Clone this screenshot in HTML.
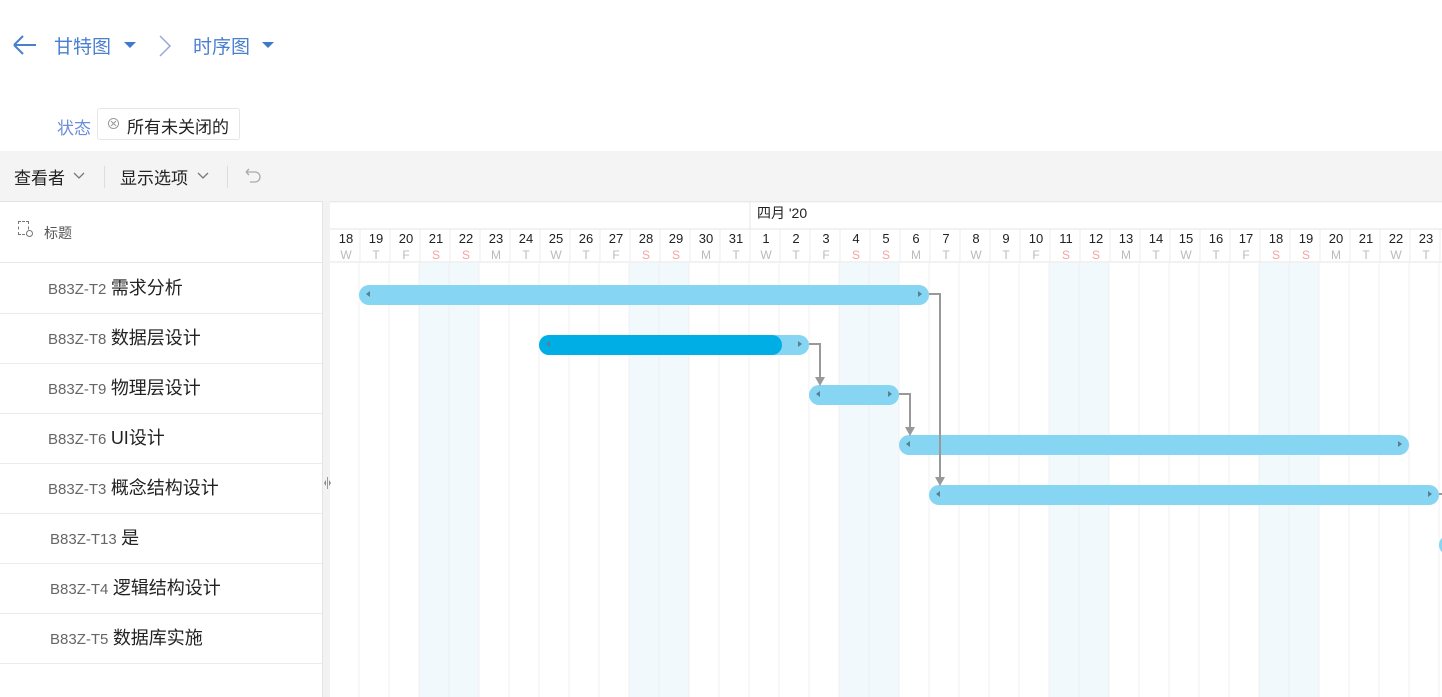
<!DOCTYPE html>
<html><head><meta charset="utf-8"><style>
body{margin:0;width:1442px;height:697px;overflow:hidden;background:#fff;font-family:"Liberation Sans","Noto Sans CJK SC",sans-serif;position:relative}
.a{position:absolute;white-space:nowrap}
.bl{color:#4a7fd0}
.row{position:absolute;left:0;width:322px;height:50px;border-bottom:1px solid #ececec}
.row span.id{color:#666;font-size:15px}
.row span.n{color:#222;font-size:18px}
</style></head><body>
<svg class="a" style="left:12px;top:34px" width="26" height="22"><path d="M2 11H24M2 11L11 2M2 11L11 20" stroke="#4a7fd0" stroke-width="2" fill="none"/></svg>
<div class="a bl" style="left:54px;top:32px;font-size:19px">甘特图</div>
<div class="a" style="left:124px;top:42px;width:0;height:0;border-left:6px solid transparent;border-right:6px solid transparent;border-top:6px solid #3f78cf"></div>
<svg class="a" style="left:158px;top:34px" width="14" height="24"><path d="M2 2L12 12L2 22" stroke="#9aa8d8" stroke-width="1.5" fill="none"/></svg>
<div class="a bl" style="left:193px;top:32px;font-size:19px">时序图</div>
<div class="a" style="left:262px;top:42px;width:0;height:0;border-left:6px solid transparent;border-right:6px solid transparent;border-top:6px solid #3f78cf"></div>
<div class="a" style="left:57px;top:114px;font-size:17px;color:#6b8fd8">状态</div>
<div class="a" style="left:97px;top:108px;width:141px;height:30px;border:1px solid #e6e6e6;border-radius:3px"></div>
<div class="a" style="left:106px;top:113px;font-size:15px;color:#999">&#8855;</div>
<div class="a" style="left:127px;top:113px;font-size:17px;color:#222">所有未关闭的</div>
<div class="a" style="left:0;top:151px;width:1442px;height:50px;background:#f4f4f4;border-bottom:1px solid #e4e4e4"></div>
<div class="a" style="left:14px;top:164px;font-size:17px;color:#222">查看者</div>
<svg class="a" style="left:73px;top:172px" width="12" height="8"><path d="M1 1L6 6L11 1" stroke="#777" stroke-width="1.3" fill="none"/></svg>
<div class="a" style="left:104px;top:166px;width:1px;height:22px;background:#ddd"></div>
<div class="a" style="left:120px;top:164px;font-size:17px;color:#222">显示选项</div>
<svg class="a" style="left:197px;top:172px" width="12" height="8"><path d="M1 1L6 6L11 1" stroke="#777" stroke-width="1.3" fill="none"/></svg>
<div class="a" style="left:227px;top:166px;width:1px;height:22px;background:#ddd"></div>
<svg class="a" style="left:242px;top:168px" width="20" height="18"><path d="M4 4H13A5 5 0 0 1 13 14H8M4 4L7 1M4 4L7 7" stroke="#aaa" stroke-width="1.3" fill="none"/></svg>
<div class="a" style="left:0;top:201px;width:322px;height:61px;border-bottom:1px solid #e6e6e6"></div>
<div class="a" style="left:18px;top:221px;width:9px;height:12px;border:1px dashed #777"></div>
<div class="a" style="left:26px;top:230px;width:5px;height:5px;border:1px solid #777;border-radius:50%;background:#fff"></div>
<div class="a" style="left:44px;top:223px;font-size:14px;color:#555">标题</div>
<div class="row" style="top:263px"><span class="a" style="left:48px;top:11px"><span class="id">B83Z-T2</span> <span class="n">需求分析</span></span></div>
<div class="row" style="top:313px"><span class="a" style="left:48px;top:11px"><span class="id">B83Z-T8</span> <span class="n">数据层设计</span></span></div>
<div class="row" style="top:363px"><span class="a" style="left:48px;top:11px"><span class="id">B83Z-T9</span> <span class="n">物理层设计</span></span></div>
<div class="row" style="top:413px"><span class="a" style="left:48px;top:11px"><span class="id">B83Z-T6</span> <span class="n">UI设计</span></span></div>
<div class="row" style="top:463px"><span class="a" style="left:48px;top:11px"><span class="id">B83Z-T3</span> <span class="n">概念结构设计</span></span></div>
<div class="row" style="top:513px"><span class="a" style="left:50px;top:11px"><span class="id">B83Z-T13</span> <span class="n">是</span></span></div>
<div class="row" style="top:563px"><span class="a" style="left:50px;top:11px"><span class="id">B83Z-T4</span> <span class="n">逻辑结构设计</span></span></div>
<div class="row" style="top:613px"><span class="a" style="left:50px;top:11px"><span class="id">B83Z-T5</span> <span class="n">数据库实施</span></span></div>
<div class="a" style="left:322px;top:201px;width:7px;height:496px;background:#f2f2f2;border-left:1px solid #e4e4e4"></div>
<svg class="a" style="left:322px;top:476px" width="10" height="14"><path d="M2 7L4 4V10Z M9 7L7 4V10Z" fill="#888"/><line x1="5.5" y1="1" x2="5.5" y2="13" stroke="#999"/></svg>
<svg class="a" style="left:0;top:0" width="1442" height="697" font-family="Liberation Sans, Noto Sans CJK SC, sans-serif">
<g fill="#f2f9fc">
<rect x="419" y="263" width="60" height="434"/><rect x="629" y="263" width="60" height="434"/><rect x="839" y="263" width="60" height="434"/><rect x="1049" y="263" width="60" height="434"/><rect x="1259" y="263" width="60" height="434"/>
</g>
<line x1="330" y1="202" x2="1442" y2="202" stroke="#eee"/>
<line x1="330" y1="229" x2="1442" y2="229" stroke="#e6e6e6"/>
<line x1="330" y1="262" x2="1442" y2="262" stroke="#e6e6e6"/>
<line x1="750" y1="202" x2="750" y2="229" stroke="#e6e6e6"/>
<text x="757" y="218" font-size="14" fill="#222">四月 '20</text>
<g id="cols"></g>
<g fill="#86d5f3">
<rect x="359" y="285" width="570" height="20" rx="10"/>
<rect x="539" y="335" width="270" height="20" rx="10"/>
<rect x="809" y="385" width="90" height="20" rx="10"/>
<rect x="899" y="435" width="510" height="20" rx="10"/>
<rect x="929" y="485" width="510" height="20" rx="10"/>
<circle cx="1449" cy="545" r="10"/>
</g>
<rect x="539" y="335" width="243" height="20" rx="10" fill="#00aee6"/>
<g fill="#5a7f90">
<path d="M366 294l4-3v6z"/><path d="M922 294l-4-3v6z"/>
<path d="M546 344l4-3v6z"/><path d="M802 344l-4-3v6z"/>
<path d="M816 394l4-3v6z"/><path d="M892 394l-4-3v6z"/>
<path d="M906 444l4-3v6z"/><path d="M1402 444l-4-3v6z"/>
<path d="M936 494l4-3v6z"/><path d="M1432 494l-4-3v6z"/>
</g>
<g stroke="#999" stroke-width="2" fill="none">
<path d="M929 294H940V478"/><path d="M809 344H820V378"/><path d="M899 394H910V428"/><path d="M1439 494H1442"/>
</g>
<g fill="#999">
<path d="M935 477h10l-5 9z"/><path d="M815 377h10l-5 9z"/><path d="M905 427h10l-5 9z"/>
</g>
</svg>
<script>
var days=[18,19,20,21,22,23,24,25,26,27,28,29,30,31,1,2,3,4,5,6,7,8,9,10,11,12,13,14,15,16,17,18,19,20,21,22,23];
var wd="WTFSSMTWTFSSMTWTFSSMTWTFSSMTWTFSSMTWT";
var g=document.getElementById('cols'),s='';
for(var i=0;i<37;i++){var x=331+30*i,c=x+15;var we=wd[i]=='S';
s+='<line x1="'+(x+29)+'" y1="229" x2="'+(x+29)+'" y2="262" stroke="#ececec"/>';
s+='<line x1="'+(x+28)+'" y1="263" x2="'+(x+28)+'" y2="697" stroke="#f0f0f0"/>';
s+='<text x="'+c+'" y="243" font-size="13" fill="#222" text-anchor="middle">'+days[i]+'</text>';
s+='<text x="'+c+'" y="259" font-size="12" fill="'+(we?'#f4a3a3':'#bbb')+'" text-anchor="middle">'+wd[i]+'</text>';}
g.innerHTML=s;
</script>
</body></html>
